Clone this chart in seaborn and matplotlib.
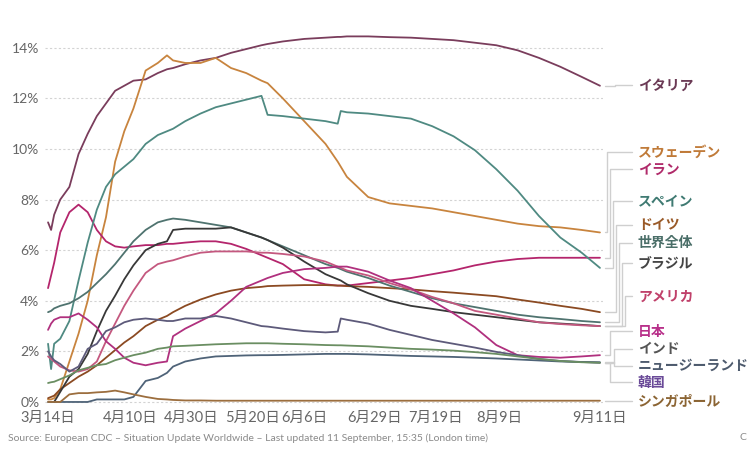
import pandas as pd
import matplotlib
matplotlib.use("Agg")
import matplotlib.pyplot as plt
import seaborn as sns

# day offsets from 14 March 2020
days = [0, 1, 2, 4, 7, 10, 13, 16, 19, 22, 25, 28, 32, 36, 39, 41, 45, 50, 55, 60,
        65, 70, 72, 77, 84, 91, 95, 96, 98, 105, 112, 119, 126, 133, 140, 147, 154,
        161, 168, 175, 181]

nan = float("nan")

# case fatality rate, %
italy = [7.1, 6.8, 7.4, 8.0, 8.5, 9.8, 10.6, 11.3, 11.8, 12.3, 12.5, 12.7, 12.75, 13.0, 13.15,
         13.2, 13.35, 13.5, 13.6, 13.8, 13.95, 14.1, 14.15, 14.25, 14.35, 14.4, 14.43, 14.43,
         14.45, 14.45, 14.42, 14.4, 14.35, 14.3, 14.2, 14.1, 13.9, 13.6, 13.25, 12.85, 12.5]
sweden = [0.1, 0.1, 0.15, 0.5, 1.6, 2.7, 4.0, 5.8, 7.3, 9.5, 10.7, 11.6, 13.1, 13.4, 13.7,
          13.5, 13.4, 13.4, 13.6, 13.2, 13.0, 12.7, 12.6, 12.0, 11.1, 10.2, 9.5, 9.3, 8.9,
          8.1, 7.85, 7.75, 7.65, 7.5, 7.35, 7.2, 7.05, 6.95, 6.9, 6.8, 6.7]
iran = [4.5, 5.0, 5.5, 6.7, 7.5, 7.8, 7.5, 6.8, 6.35, 6.15, 6.1, 6.15, 6.2, 6.2, 6.25,
        6.25, 6.3, 6.35, 6.35, 6.25, 6.05, 5.8, 5.7, 5.45, 4.85, 4.65, 4.6, 4.6, 4.6,
        4.7, 4.8, 4.9, 5.05, 5.2, 5.4, 5.55, 5.65, 5.7, 5.7, 5.7, 5.7]
spain = [2.3, 1.3, 2.3, 2.5, 3.2, 4.8, 6.3, 7.6, 8.5, 9.0, 9.3, 9.6, 10.2, 10.55, 10.7,
         10.8, 11.1, 11.4, 11.65, 11.8, 11.95, 12.1, 11.35, 11.3, 11.2, 11.1, 11.0, 11.5,
         11.45, 11.4, 11.3, 11.2, 10.9, 10.5, 9.95, 9.2, 8.35, 7.35, 6.5, 5.9, 5.3]
germany = [0.15, 0.2, 0.25, 0.5, 0.75, 1.0, 1.2, 1.45, 1.75, 2.05, 2.35, 2.6, 3.0, 3.25, 3.4,
           3.55, 3.8, 4.05, 4.25, 4.4, 4.5, 4.55, 4.58, 4.6, 4.62, 4.62, 4.6, 4.6, 4.58,
           4.55, 4.5, 4.45, 4.38, 4.32, 4.25, 4.18, 4.05, 3.93, 3.8, 3.68, 3.55]
world = [3.55, 3.6, 3.7, 3.8, 3.9, 4.1, 4.35, 4.7, 5.05, 5.45, 5.9, 6.35, 6.8, 7.1, 7.2,
         7.25, 7.2, 7.1, 7.0, 6.9, 6.7, 6.5, 6.4, 6.15, 5.8, 5.45, 5.3, 5.25, 5.15,
         4.9, 4.6, 4.35, 4.1, 3.9, 3.75, 3.6, 3.45, 3.35, 3.28, 3.2, 3.15]
brazil = [nan, nan, 0.0, 0.4, 1.0, 1.3, 1.9, 2.8, 3.6, 4.2, 4.85, 5.4, 6.0, 6.25, 6.35,
          6.8, 6.85, 6.85, 6.85, 6.9, 6.7, 6.5, 6.4, 6.1, 5.55, 5.05, 4.85, 4.8, 4.65,
          4.3, 4.0, 3.8, 3.68, 3.55, 3.45, 3.35, 3.25, 3.15, 3.1, 3.05, 3.0]
usa = [1.8, 1.7, 1.6, 1.4, 1.25, 1.2, 1.3, 1.6, 2.4, 3.1, 3.8, 4.4, 5.1, 5.45, 5.55,
       5.6, 5.75, 5.9, 5.95, 5.95, 5.95, 5.9, 5.9, 5.85, 5.75, 5.55, 5.35, 5.3, 5.2,
       5.0, 4.7, 4.45, 4.15, 3.9, 3.6, 3.45, 3.3, 3.15, 3.08, 3.03, 3.0]
japan = [2.85, 3.1, 3.25, 3.35, 3.35, 3.5, 3.25, 2.95, 2.4, 2.1, 1.75, 1.55, 1.45, 1.55, 1.6,
         2.6, 2.9, 3.2, 3.5, 4.0, 4.55, 4.8, 4.9, 5.1, 5.25, 5.3, 5.35, 5.35, 5.35,
         5.15, 4.8, 4.5, 4.0, 3.5, 2.95, 2.25, 1.85, 1.78, 1.75, 1.8, 1.85]
india = [2.0, 1.8, 1.65, 1.5, 1.2, 1.4, 2.1, 2.3, 2.8, 2.95, 3.15, 3.25, 3.3, 3.25, 3.2,
         3.2, 3.3, 3.3, 3.4, 3.3, 3.15, 3.0, 2.98, 2.9, 2.8, 2.75, 2.78, 3.3, 3.25,
         3.1, 2.85, 2.65, 2.45, 2.3, 2.15, 1.98, 1.85, 1.7, 1.62, 1.58, 1.55]
new_zealand = [0.0, 0.0, 0.0, 0.0, 0.0, 0.0, 0.0, 0.1, 0.1, 0.1, 0.1, 0.2, 0.83, 0.95, 1.15,
               1.4, 1.6, 1.72, 1.8, 1.82, 1.84, 1.85, 1.85, 1.86, 1.88, 1.9, 1.9, 1.9, 1.9,
               1.88, 1.85, 1.82, 1.8, 1.78, 1.75, 1.72, 1.68, 1.64, 1.6, 1.58, 1.57]
korea = [0.75, 0.78, 0.8, 0.9, 1.05, 1.25, 1.35, 1.45, 1.5, 1.65, 1.75, 1.85, 1.95, 2.1, 2.15,
         2.2, 2.22, 2.25, 2.28, 2.3, 2.32, 2.32, 2.32, 2.3, 2.28, 2.25, 2.24, 2.24, 2.23,
         2.2, 2.15, 2.1, 2.07, 2.03, 1.97, 1.9, 1.8, 1.7, 1.62, 1.57, 1.55]
singapore = [0.0, 0.0, 0.0, 0.0, 0.3, 0.35, 0.35, 0.38, 0.4, 0.45, 0.38, 0.3, 0.2, 0.12, 0.1,
             0.08, 0.06, 0.06, 0.05, 0.05, 0.05, 0.05, 0.05, 0.05, 0.05, 0.05, 0.05, 0.05, 0.05,
             0.05, 0.05, 0.05, 0.05, 0.05, 0.05, 0.05, 0.05, 0.05, 0.05, 0.05, 0.05]

countries = ["イタリア", "スウェーデン", "イラン", "スペイン", "ドイツ", "世界全体", "ブラジル",
             "アメリカ", "日本", "インド", "ニュージーランド", "韓国", "シンガポール"]
series = [italy, sweden, iran, spain, germany, world, brazil, usa, japan, india,
          new_zealand, korea, singapore]
line_colors = ["#7a3d5c", "#c8843e", "#b4256c", "#4f8a82", "#8b4a22", "#4f736f", "#383838",
               "#c4587f", "#b0307e", "#5d5a7a", "#4f6378", "#6a8e62", "#9c6e3e"]
label_colors = ["#6b3a55", "#c07a38", "#b02a6a", "#3f7a72", "#9a5a28", "#4a6e68", "#444444",
                "#c0406a", "#b8308a", "#555555", "#4d5a6d", "#6a4a98", "#8b6433"]
# label heights (in %) and elbow x (px) of the leader lines
label_y = [12.53, 9.9, 9.2, 7.95, 7.0, 6.3, 5.5, 4.17, 2.8, 2.09, 1.43, 0.77, 0.02]
elbow_px = [615, 607, 610, 613, 616, 619, 622, 625, 610, 614, 614, 610, 615]

tick_dates = ["2020-03-14", "2020-04-10", "2020-04-30", "2020-05-20", "2020-06-06",
              "2020-06-29", "2020-07-19", "2020-08-09", "2020-09-11"]
tick_labels = ["3月14日", "4月10日", "4月30日", "5月20日", "6月6日", "6月29日",
               "7月19日", "8月9日", "9月11日"]

start = pd.Timestamp("2020-03-14")
dates = start + pd.to_timedelta(days, unit="D")
frames = [pd.DataFrame({"date": dates, "cfr": vals, "country": name})
          for name, vals in zip(countries, series)]
df = pd.concat(frames).dropna()

sns.set_theme(style="white")
plt.rcParams["font.family"] = ["Lato", "Noto Sans CJK JP", "DejaVu Sans"]

W, H = 750, 454
fig = plt.figure(figsize=(7.5, 4.54), dpi=100)
ax_left, ax_right, ax_top, ax_bottom = 45, 603, 32.6, 404.5
ax = fig.add_axes([ax_left / W, 1 - ax_bottom / H, (ax_right - ax_left) / W,
                   (ax_bottom - ax_top) / H])

sns.lineplot(data=df, x="date", y="cfr", hue="country", hue_order=countries,
             palette=dict(zip(countries, line_colors)), estimator=None, sort=True,
             linewidth=1.3, legend=False, ax=ax)

ax.set_xlim(start - pd.Timedelta(days=1), pd.Timestamp("2020-09-12"))
ax.set_ylim(-0.1, 14.6)
ax.set_yticks(range(0, 15, 2))
ax.set_yticklabels([f"{v}%" for v in range(0, 15, 2)])
ax.set_xticks(pd.to_datetime(tick_dates))
ax.set_xticklabels(tick_labels)
ax.tick_params(axis="y", length=0, pad=4, labelsize=10, labelcolor="#666666")
ax.tick_params(axis="x", length=3, width=0.8, color="#d5d5d5", pad=1.5, labelsize=10.5,
               labelcolor="#666666")
ax.yaxis.grid(True, color="#d3d3d3", linestyle=(0, (2, 2)), linewidth=0.8)
ax.xaxis.grid(False)
for sp in ax.spines.values():
    sp.set_visible(False)
ax.set_xlabel("")
ax.set_ylabel("")

# leader lines and end labels
trans = ax.get_yaxis_transform()


def fx(px):
    return (px - ax_left) / (ax_right - ax_left)


for name, vals, lc, ly, ex in zip(countries, series, label_colors, label_y, elbow_px):
    y0 = vals[-1]
    ax.plot([fx(605), fx(ex), fx(ex), fx(632)], [y0, y0, ly, ly], transform=trans,
            color="#cfcfcf", linewidth=1, clip_on=False)
    ax.text(fx(638), ly, name, transform=trans, color=lc, fontsize=10, fontweight="bold",
            ha="left", va="center", clip_on=False)

fig.text(8 / W, 1 - 438 / H,
         "Source: European CDC – Situation Update Worldwide – Last updated 11 September, 15:35 (London time)",
         fontsize=7.5, color="#8a8a8a", ha="left", va="center")
fig.text(739 / W, 1 - 438 / H, "C", fontsize=7.5, color="#8a8a8a", ha="left", va="center")

fig.savefig("out.png", dpi=100)
